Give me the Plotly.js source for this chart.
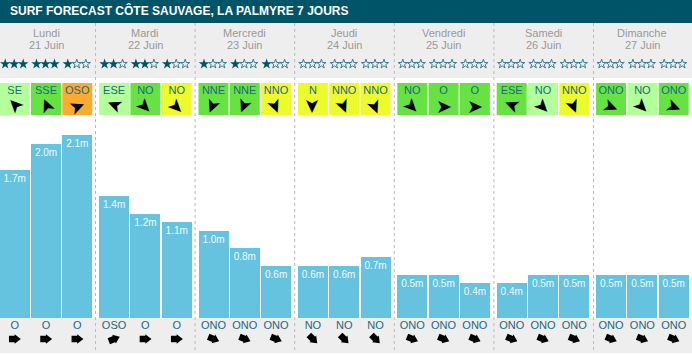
<!DOCTYPE html>
<html><head><meta charset="utf-8">
<script src="https://cdn.plot.ly/plotly-3.0.1.min.js"></script>
<style>html,body{margin:0;padding:0;background:#fff}#c{width:692px;height:355px}</style></head>
<body><div id="c"></div>
<script>
const chartTitle = "SURF FORECAST CÔTE SAUVAGE, LA PALMYRE 7 JOURS";
const dayNames = ["Lundi","Mardi","Mercredi","Jeudi","Vendredi","Samedi","Dimanche"];
const dayDates = ["21 Juin","22 Juin","23 Juin","24 Juin","25 Juin","26 Juin","27 Juin"];
const heights = [1.7,2.0,2.1, 1.4,1.2,1.1, 1.0,0.8,0.6, 0.6,0.6,0.7, 0.5,0.5,0.4, 0.4,0.5,0.5, 0.5,0.5,0.5];
const stars = [3,3,1, 2,2,1, 1,1,1, 0,0,0, 0,0,0, 0,0,0, 0,0,0];
const windDirs = ["SE","SSE","OSO","ESE","NO","NO","NNE","NNE","NNO","N","NNO","NNO","NO","O","O","ESE","NO","NNO","ONO","NO","ONO"];
const windRatings = [1,2,3, 1,2,4, 2,2,4, 4,4,4, 2,2,2, 2,1,4, 2,1,2];
const windAngles = [315,337,68, 292,135,135, 202,202,158, 180,158,158, 135,90,90, 292,135,158, 112,135,112];
const swellDirs = ["O","O","O","OSO","O","O","ONO","ONO","ONO","NO","NO","NO","ONO","ONO","ONO","ONO","ONO","ONO","ONO","ONO","ONO"];
const swellAngles = [90,90,90,68,90,90,112,112,112,135,135,135,112,112,112,112,112,112,112,112,112];

const ratingColors = {1:"#b3ff99",2:"#66e243",3:"#fbab2f",4:"#eefb2b"};
const navy="#005468", band="#eeeeee", barCol="#65c3df", textCol="#20687f";
const W=692,H=355,zeroPx=318,pxPerM=87;
const yOf=px=>(zeroPx-px)/pxPerM;
const slotX=i=>{const d=Math.floor(i/3),s=i%3;return d*99.4+14.7+s*31.3;};
const xs=heights.map((_,i)=>slotX(i));
const dayX=dayNames.map((_,d)=>slotX(d*3+1));
// offset along an arrow's heading, in screen pixels
const alongX=(i,d)=>xs[i]+d*Math.sin(swellAngles[i]*Math.PI/180);
const alongY=(i,d,py)=>yOf(py-d*Math.cos(swellAngles[i]*Math.PI/180));

const shapes=[
 {type:'rect',xref:'paper',yref:'paper',x0:0,x1:1,y0:1,y1:1-23/H,fillcolor:navy,line:{width:0},layer:'below'},
 {type:'rect',xref:'paper',yref:'paper',x0:0,x1:1,y0:1-23/H,y1:1-78/H,fillcolor:band,line:{width:0},layer:'below'},
 {type:'rect',xref:'paper',yref:'paper',x0:0,x1:1,y0:1-318/H,y1:1-353/H,fillcolor:band,line:{width:0},layer:'below'}
];
for(let d=0;d<6;d++){const x=95.5+d*99.6;shapes.push({type:'line',xref:'x',yref:'paper',x0:x,x1:x,y0:1-23/H,y1:1-353/H,line:{color:'#bbbbbb',width:1,dash:'3px,3px'},layer:'below'});}
heights.forEach((_,i)=>{shapes.push({type:'rect',xref:'x',yref:'y',x0:xs[i]-15,x1:xs[i]+15,y0:yOf(115),y1:yOf(83),fillcolor:ratingColors[windRatings[i]],line:{width:0},layer:'below'});});

const sx=[],sy=[],sOn=[];
stars.forEach((n,i)=>{for(let k=0;k<3;k++){sx.push(xs[i]+(k-1)*9-0.5);sy.push(yOf(64));sOn.push(k<n);}});

const traces=[
 {type:'bar',x:xs,y:heights,width:30,marker:{color:barCol,line:{width:0}},text:heights.map(v=>v.toFixed(1)+'m'),textposition:'inside',insidetextanchor:'end',textangle:0,constraintext:'none',insidetextfont:{family:'Liberation Sans',size:10,color:'#f0fafd'},hoverinfo:'skip'},
 {type:'scatter',mode:'markers',x:sx.filter((_,i)=>sOn[i]),y:sy.filter((_,i)=>sOn[i]),marker:{symbol:'star',size:8,color:navy,line:{width:0}},hoverinfo:'skip'},
 {type:'scatter',mode:'markers',x:sx.filter((_,i)=>!sOn[i]),y:sy.filter((_,i)=>!sOn[i]),marker:{symbol:'star-open',size:7,color:'#3f7f92',line:{width:1,color:'#3f7f92'}},hoverinfo:'skip'},
 {type:'scatter',mode:'text',x:xs,y:xs.map(()=>yOf(91.5)),text:windDirs,textfont:{family:'Liberation Sans',size:11,color:textCol},textposition:'middle center',hoverinfo:'skip'},
 {type:'scatter',mode:'text',x:xs,y:xs.map(()=>yOf(326.5)),text:swellDirs,textfont:{family:'Liberation Sans',size:11,color:textCol},textposition:'middle center',hoverinfo:'skip'},
 {type:'scatter',mode:'markers',x:xs.map((_,i)=>alongX(i,-2.5)),y:xs.map((_,i)=>alongY(i,-2.5,339)),marker:{symbol:'square',size:6.5,angle:swellAngles,color:'#000',line:{width:0}},hoverinfo:'skip'},
 {type:'scatter',mode:'markers',x:xs.map((_,i)=>alongX(i,2)),y:xs.map((_,i)=>alongY(i,2,339)),marker:{symbol:'triangle-up',size:8.2,angle:swellAngles,color:'#000',line:{width:0}},hoverinfo:'skip'}
];
const annotations=[{xref:'paper',yref:'paper',x:8/W,y:1-10.5/H,xanchor:'left',yanchor:'middle',text:chartTitle,showarrow:false,font:{family:'Liberation Sans',size:12,color:'#fff',weight:700}}];
dayNames.forEach((t,d)=>{
 annotations.push({xref:'x',yref:'paper',x:dayX[d],y:1-33/H,xanchor:'center',yanchor:'middle',text:t,showarrow:false,font:{family:'Liberation Sans',size:11,color:'#999999'}});
 annotations.push({xref:'x',yref:'paper',x:dayX[d],y:1-45/H,xanchor:'center',yanchor:'middle',text:dayDates[d],showarrow:false,font:{family:'Liberation Sans',size:11,color:'#999999'}});
});
xs.forEach((x,i)=>{
 annotations.push({xref:'x',yref:'y',x:x,y:yOf(106),xanchor:'center',yanchor:'middle',text:'\u27A4',textangle:windAngles[i]-90,showarrow:false,font:{family:'DejaVu Sans',size:19,color:'#000'}});
});

Plotly.newPlot('c',traces,{
 width:W,height:H,margin:{l:0,r:0,t:0,b:0},paper_bgcolor:'#fff',plot_bgcolor:'rgba(0,0,0,0)',showlegend:false,bargap:0,
 xaxis:{range:[0,W],visible:false,fixedrange:true},
 yaxis:{range:[yOf(H),yOf(0)],visible:false,fixedrange:true},
 shapes,annotations
},{displayModeBar:false,staticPlot:true});
</script></body></html>
